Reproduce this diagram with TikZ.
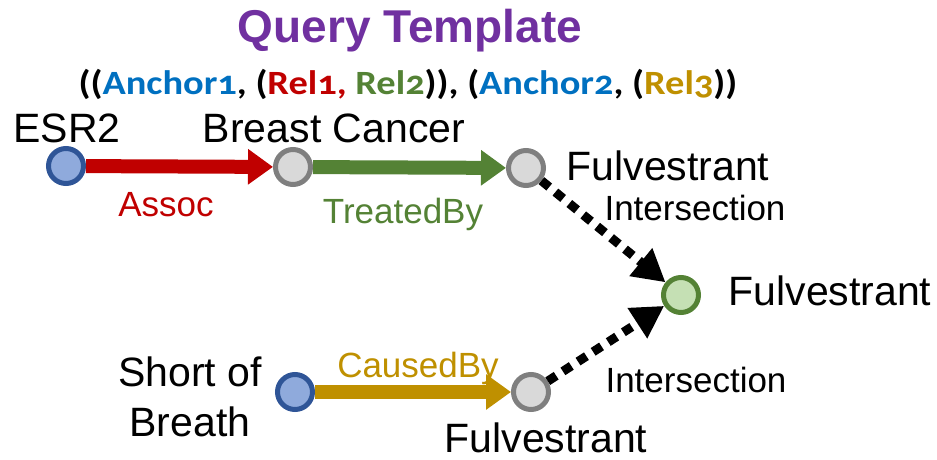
\documentclass[tikz,border=0pt]{standalone}
\usepackage{fontspec}
\setmainfont{Liberation Sans}
\newfontfamily\tplfont[Numbers=OldStyle]{Carlito}
\usetikzlibrary{arrows.meta}
\definecolor{ancblue}{HTML}{0070C0}
\definecolor{relred}{HTML}{C00000}
\definecolor{relgreen}{HTML}{548235}
\definecolor{relgold}{HTML}{BF9000}
\definecolor{tplpurple}{HTML}{7030A0}
\definecolor{dotblue}{HTML}{8FAADC}
\definecolor{dotblueln}{HTML}{2F5597}
\definecolor{dotgray}{HTML}{D9D9D9}
\definecolor{dotgrayln}{HTML}{7F7F7F}
\definecolor{dotgreen}{HTML}{C5E0B4}
\newcommand{\anc}[1]{\textcolor{ancblue}{#1}}

\begin{document}
\begin{tikzpicture}[x=1pt, y=-1pt,
      dot/.style={circle, line width=5pt, minimum size=35pt, inner sep=0pt},
      anchordot/.style={dot, draw=dotblueln, fill=dotblue},
      vardot/.style={dot, draw=dotgrayln, fill=dotgray},
      ansdot/.style={dot, draw=relgreen, fill=dotgreen},
      lbl/.style={anchor=base, inner sep=0pt, font=\fontsize{41}{50}\selectfont},
      rlbl/.style={anchor=base, inner sep=0pt, font=\fontsize{35}{42}\selectfont},
      rel/.style={line width=14pt, -{Triangle[length=25pt, width=34pt]}},
      inter/.style={line width=9pt, dash pattern=on 10pt off 8pt,
                    -{Triangle[length=32pt, width=34pt]}}]
    \useasboundingbox (0,0) rectangle (937,459);
    % title and template
    \node[anchor=base, inner sep=0pt, text=tplpurple,
          font=\bfseries\fontsize{46}{54}\selectfont] (title) at (410,42) {Query Template};
    \node[anchor=base, inner sep=0pt, xscale=1.13, transform shape,
          font=\tplfont\bfseries\fontsize{34}{40}\selectfont] (tpl) at (408,94)
      {((\anc{Anchor1}, (\textcolor{relred}{Rel1,} \textcolor{relgreen}{Rel2})), (\anc{Anchor2}, (\textcolor{relgold}{Rel3}))};
    % nodes
    \node[anchordot] (esr) at (66,166) {};
    \node[vardot] (bc) at (293,167) {};
    \node[vardot] (fa) at (526,168) {};
    \node[ansdot] (fin) at (681,295) {};
    \node[anchordot] (sob) at (295,392) {};
    \node[vardot] (fb) at (531,392) {};
    \node[lbl] (esrl) at (67,142) {ESR2};
    \node[lbl] (bcl) at (334,142) {Breast Cancer};
    \node[lbl] (fal) at (668,180) {Fulvestrant};
    \node[lbl] (finl) at (830,305) {Fulvestrant};
    \node[lbl] (fbl) at (546,452) {Fulvestrant};
    \node[anchor=center, align=center, inner sep=0pt, font=\fontsize{41}{50}\selectfont] (sobl) at (190,397) {Short of\\Breath};
    % edges
    \draw[rel, relred] (esr) -- (bc);
    \draw[rel, relgreen] (bc) -- (fa);
    \draw[rel, relgold] (sob) -- (fb);
    \draw[inter] (fa) -- (fin);
    \draw[inter] (fb) -- (fin);
    \node[rlbl, text=relred] (assoc) at (166,216) {Assoc};
    \node[rlbl, text=relgreen] (treat) at (403,223) {TreatedBy};
    \node[rlbl, text=relgold] (caused) at (418,377) {CausedBy};
    \node[rlbl] (inta) at (695,220) {Intersection};
    \node[rlbl] (intb) at (696,392) {Intersection};
  \end{tikzpicture}
\end{document}
